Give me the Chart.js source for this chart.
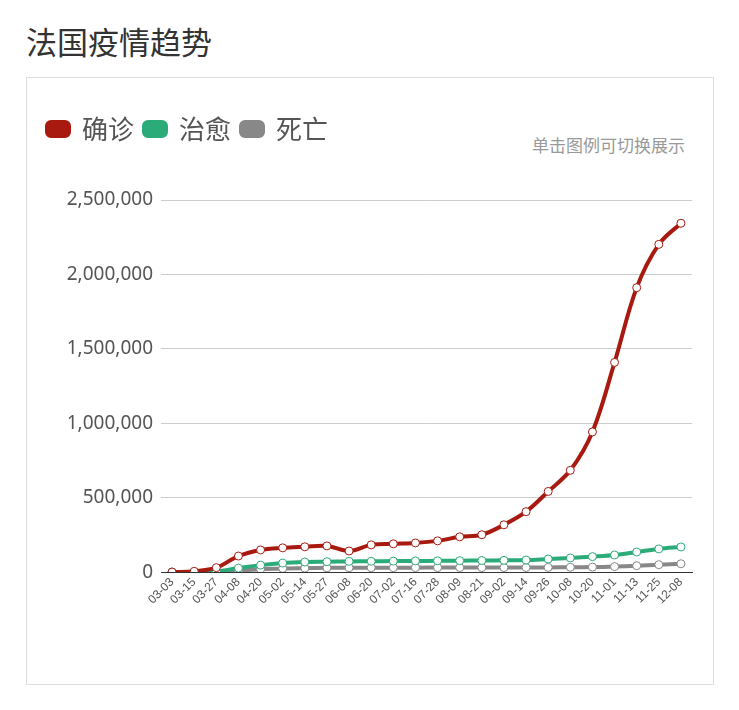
<!DOCTYPE html>
<html>
<head>
<meta charset="utf-8">
<script src="https://cdn.jsdelivr.net/npm/chart.js@4"></script>
<style>
  body { margin: 0; background: #fff; font-family: "Noto Sans CJK SC", "Noto Sans", sans-serif; }
  h1 { position: absolute; left: 26px; top: 18px; margin: 0; font-size: 31px; font-weight: normal; color: #333; }
  .box { position: absolute; left: 26px; top: 77px; width: 686px; height: 606px; border: 1px solid #ddd; }
  .hint { position: absolute; right: 28px; top: 54px; font-size: 17px; color: #999; }
  .wrap { position: absolute; left: 10px; top: 28px; width: 660px; height: 560px; }
</style>
</head>
<body>
<h1>法国疫情趋势</h1>
<div class="box">
  <div class="hint">单击图例可切换展示</div>
  <div class="wrap"><canvas id="c"></canvas></div>
</div>
<script>
const dates = ["03-03","03-15","03-27","04-08","04-20","05-02","05-14","05-27","06-08","06-20","07-02","07-16",
  "07-28","08-09","08-21","09-02","09-14","09-26","10-08","10-20","11-01","11-13","11-25","12-08"];
const confirmed = [200, 5400, 30000, 108000, 149000, 163000, 170000, 176000, 142000, 183000, 190000, 196000,
  210000, 237000, 251000, 318000, 406000, 542000, 684000, 942000, 1409000, 1911000, 2202000, 2344000];
const recovered = [0, 100, 5000, 27000, 47000, 61000, 68000, 70000, 72000, 73000, 74000, 75000,
  76000, 77000, 78000, 79000, 81000, 88000, 95000, 104000, 115000, 135000, 156000, 169000];
const deaths = [3, 90, 2000, 10000, 20000, 25000, 27000, 28600, 29200, 29600, 29900, 30100,
  30300, 30400, 30500, 30700, 31000, 31600, 32700, 33600, 37000, 43000, 50000, 56000];

function series(label, data, color) {
  return {
    label, data,
    borderColor: color, backgroundColor: color,
    borderWidth: 4, tension: 0.35,
    pointRadius: 4, pointBackgroundColor: "#fff", pointBorderColor: color, pointBorderWidth: 1
  };
}

// push the plot down below the legend
const legendGap = {
  id: "legendGap",
  beforeInit(chart) {
    const fit = chart.legend.fit;
    chart.legend.fit = function () { fit.bind(chart.legend)(); this.height += 48; };
  }
};

new Chart(document.getElementById("c"), {
  type: "line",
  data: {
    labels: dates,
    datasets: [
      series("确诊", confirmed, "#a8190f"),
      series("治愈", recovered, "#2bab78"),
      series("死亡", deaths, "#888888")
    ]
  },
  options: {
    responsive: true, maintainAspectRatio: false, animation: false,
    layout: { padding: { right: 2, bottom: 56 } },
    plugins: {
      tooltip: { enabled: false },
      legend: {
        align: "start",
        labels: {
          boxWidth: 22, boxHeight: 14, useBorderRadius: true, borderRadius: 4,
          padding: 10, color: "#555",
          font: { size: 26, family: "Noto Sans CJK SC" }
        }
      }
    },
    scales: {
      x: {
        offset: true,
        grid: { display: false, drawTicks: false },
        border: { color: "#333" },
        ticks: { color: "#555", maxRotation: 45, minRotation: 45, autoSkip: false, font: { size: 12 } }
      },
      y: {
        min: 0, max: 2500000,
        afterFit(scale) { scale.width = 124; },
        grid: { color: "#ccc", drawTicks: false },
        border: { display: false },
        ticks: {
          stepSize: 500000, padding: 8, color: "#555", font: { size: 19, family: "Noto Sans" },
          callback: v => v.toLocaleString("en-US")
        }
      }
    }
  },
  plugins: [legendGap]
});
</script>
</body>
</html>
